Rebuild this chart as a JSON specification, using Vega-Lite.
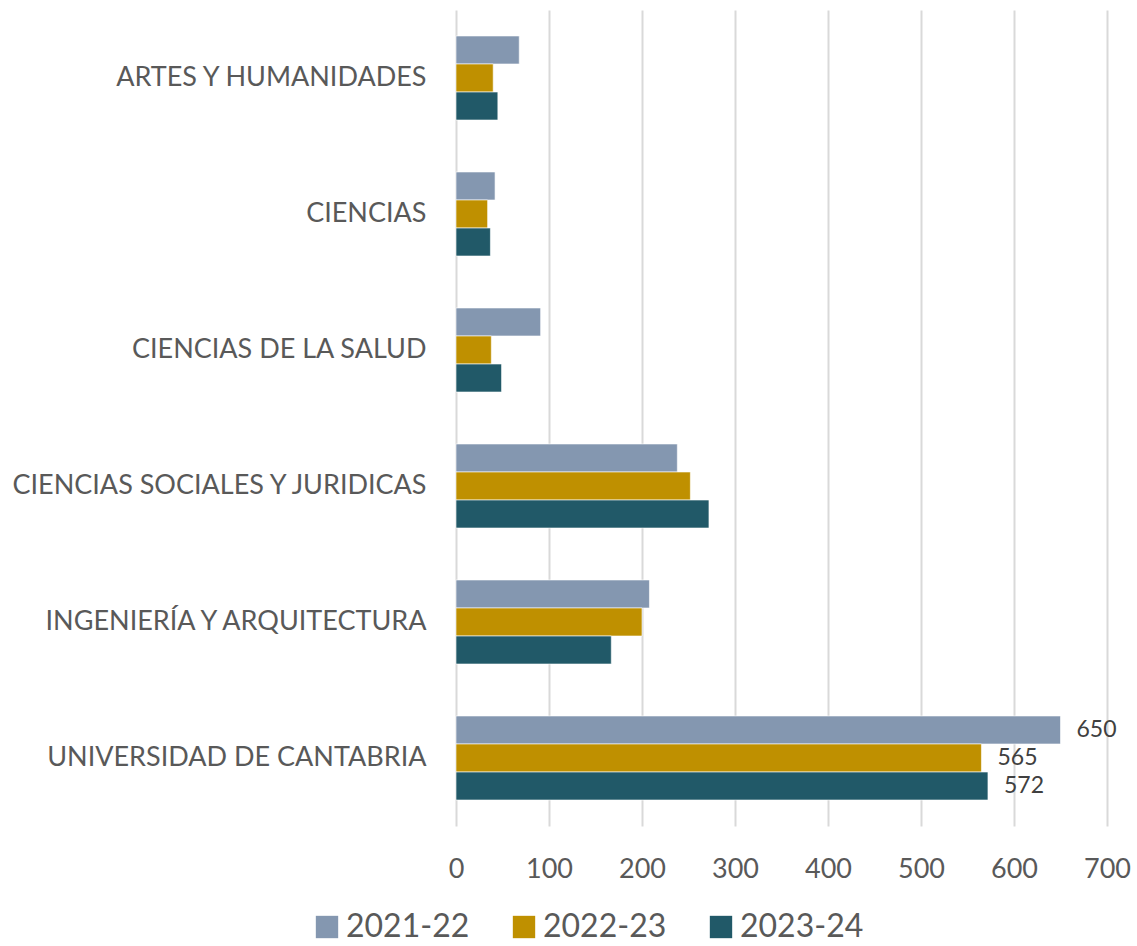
{
  "$schema": "https://vega.github.io/schema/vega-lite/v6.json",
  "autosize": {"type": "none"},
  "width": 651,
  "height": 816,
  "padding": {"left": 456, "top": 10, "right": 30, "bottom": 120},
  "background": "white",
  "config": {
    "font": "Lato",
    "view": {"stroke": null},
    "axis": {"labelColor": "#595959", "labelFont": "Lato"},
    "legend": {"labelColor": "#595959", "labelFont": "Lato"}
  },
  "data": {
    "values": [
      {"area": "ARTES Y HUMANIDADES", "curso": "2021-22", "valor": 68},
      {"area": "ARTES Y HUMANIDADES", "curso": "2022-23", "valor": 40},
      {"area": "ARTES Y HUMANIDADES", "curso": "2023-24", "valor": 45},
      {"area": "CIENCIAS", "curso": "2021-22", "valor": 42},
      {"area": "CIENCIAS", "curso": "2022-23", "valor": 34},
      {"area": "CIENCIAS", "curso": "2023-24", "valor": 37},
      {"area": "CIENCIAS DE LA SALUD", "curso": "2021-22", "valor": 91},
      {"area": "CIENCIAS DE LA SALUD", "curso": "2022-23", "valor": 38},
      {"area": "CIENCIAS DE LA SALUD", "curso": "2023-24", "valor": 49},
      {"area": "CIENCIAS SOCIALES Y JURIDICAS", "curso": "2021-22", "valor": 238},
      {"area": "CIENCIAS SOCIALES Y JURIDICAS", "curso": "2022-23", "valor": 252},
      {"area": "CIENCIAS SOCIALES Y JURIDICAS", "curso": "2023-24", "valor": 272},
      {"area": "INGENIERÍA Y ARQUITECTURA", "curso": "2021-22", "valor": 208},
      {"area": "INGENIERÍA Y ARQUITECTURA", "curso": "2022-23", "valor": 200},
      {"area": "INGENIERÍA Y ARQUITECTURA", "curso": "2023-24", "valor": 167},
      {"area": "UNIVERSIDAD DE CANTABRIA", "curso": "2021-22", "valor": 650, "etiqueta": "650"},
      {"area": "UNIVERSIDAD DE CANTABRIA", "curso": "2022-23", "valor": 565, "etiqueta": "565"},
      {"area": "UNIVERSIDAD DE CANTABRIA", "curso": "2023-24", "valor": 572, "etiqueta": "572"}
    ]
  },
  "encoding": {
    "y": {
      "field": "area",
      "type": "nominal",
      "sort": ["ARTES Y HUMANIDADES", "CIENCIAS", "CIENCIAS DE LA SALUD", "CIENCIAS SOCIALES Y JURIDICAS", "INGENIERÍA Y ARQUITECTURA", "UNIVERSIDAD DE CANTABRIA"],
      "scale": {"paddingInner": 0.382, "paddingOuter": 0.191},
      "axis": {"title": null, "ticks": false, "domain": false, "labelFontSize": 27, "labelPadding": 30, "labelLimit": 500}
    },
    "yOffset": {"field": "curso", "type": "nominal", "sort": ["2021-22", "2022-23", "2023-24"], "scale": {"paddingInner": 0, "paddingOuter": 0}},
    "x": {
      "field": "valor",
      "type": "quantitative",
      "scale": {"domain": [0, 700], "nice": false},
      "axis": {"title": null, "values": [0, 100, 200, 300, 400, 500, 600, 700], "ticks": false, "domain": false, "grid": true, "gridColor": "#d9d9d9", "gridWidth": 2, "labelFontSize": 27, "labelPadding": 30, "labelFlush": false}
    }
  },
  "layer": [
    {
      "mark": {"type": "bar", "stroke": "white", "strokeWidth": 1, "strokeOpacity": 0.6},
      "encoding": {
        "color": {
          "field": "curso",
          "type": "nominal",
          "scale": {"domain": ["2021-22", "2022-23", "2023-24"], "range": ["#8497B0", "#BF9000", "#215968"]},
          "legend": {
            "title": null,
            "orient": "none",
            "direction": "horizontal",
            "legendX": -145,
            "legendY": 901,
            "symbolType": "square",
            "symbolSize": 500,
            "symbolStrokeWidth": 0,
            "labelFontSize": 32,
            "columnPadding": 38,
            "labelOffset": 3
          }
        }
      }
    },
    {
      "transform": [{"filter": "datum.etiqueta != null"}],
      "mark": {"type": "text", "align": "left", "dx": 16, "fontSize": 23, "color": "#404040"},
      "encoding": {"text": {"field": "etiqueta"}}
    }
  ]
}
